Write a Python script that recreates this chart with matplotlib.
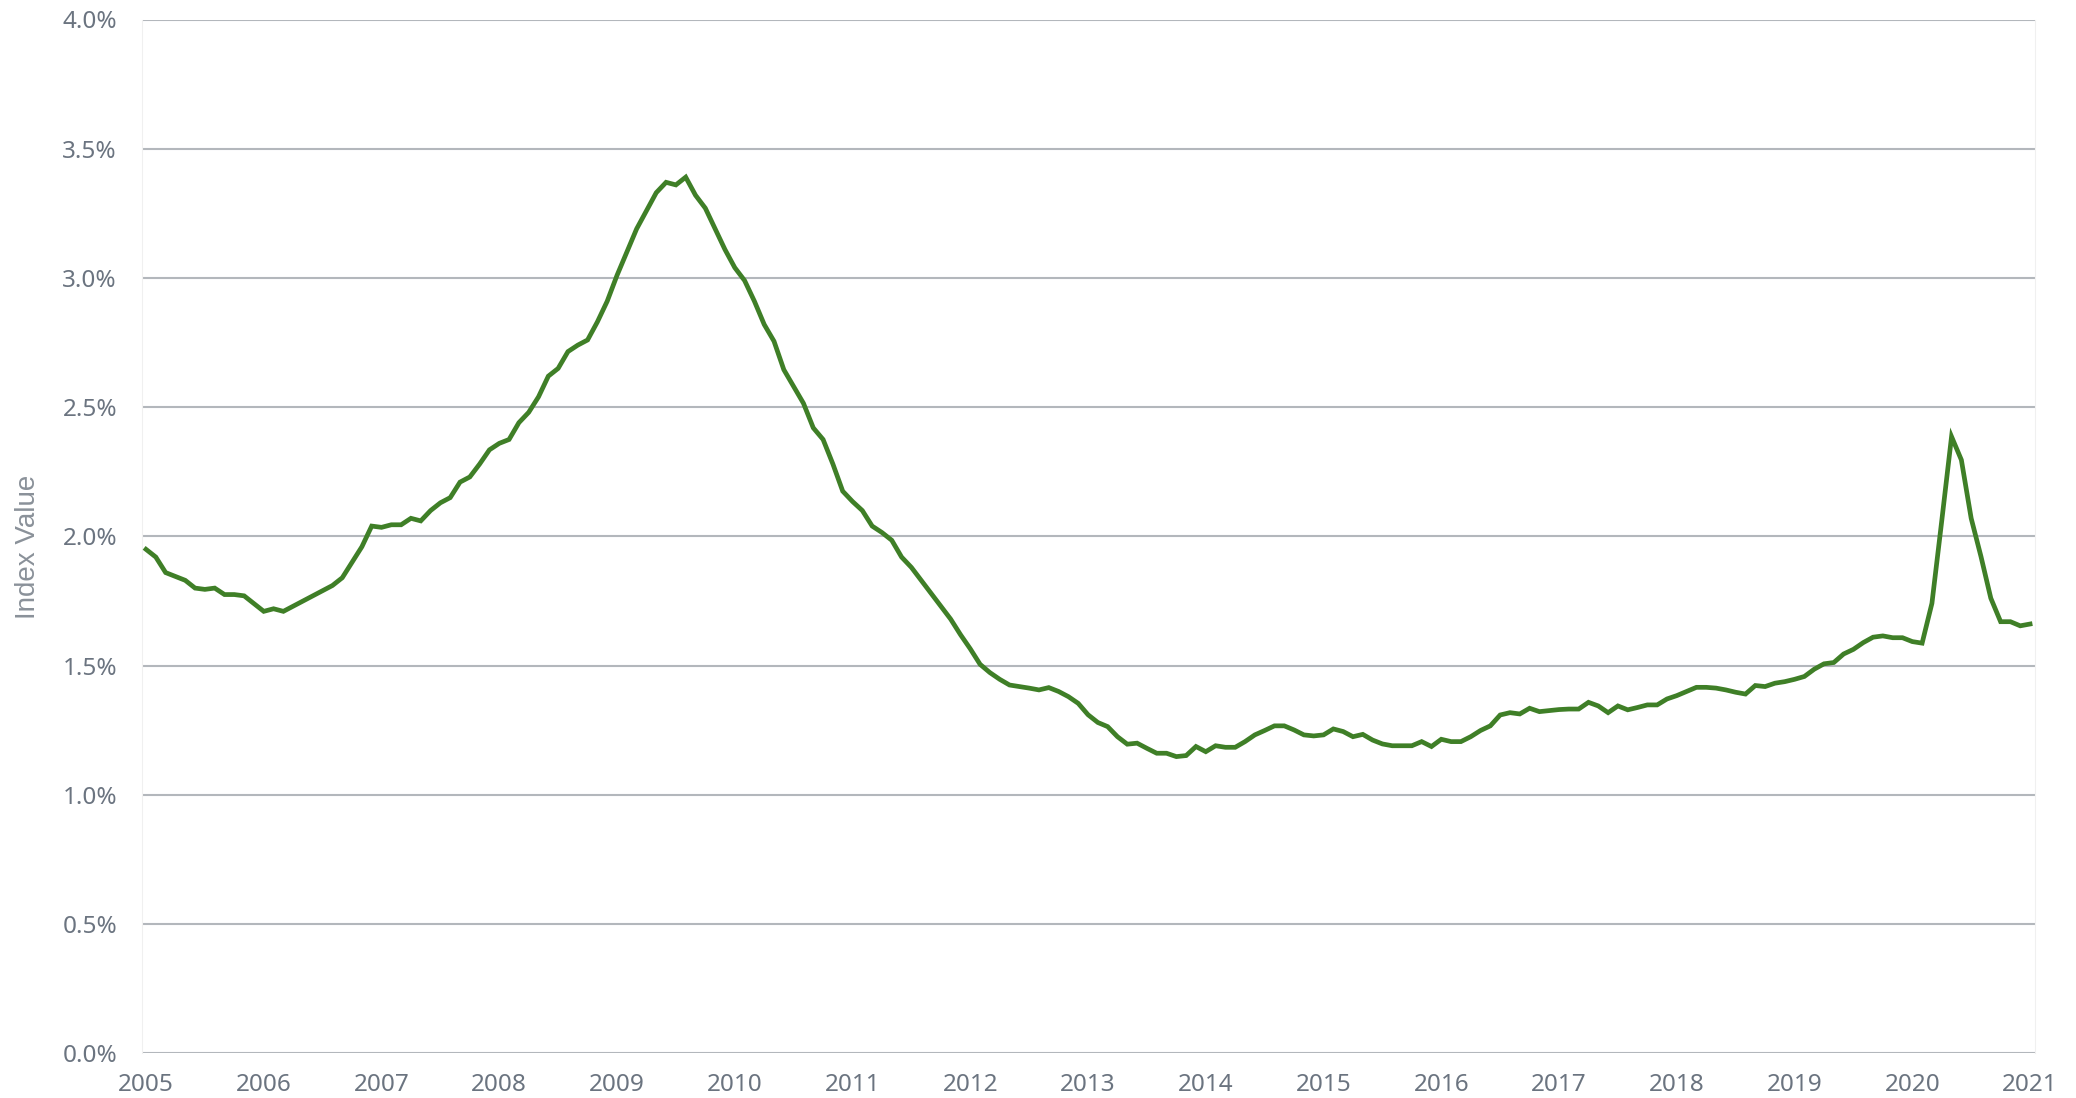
import matplotlib
matplotlib.use("Agg")
import matplotlib.pyplot as plt
from matplotlib.ticker import FuncFormatter
import numpy as np

# Monthly index values (%), Jan 2005 .. Jan 2021
v2005 = [1.95, 1.92, 1.86, 1.845, 1.83, 1.80, 1.795, 1.80, 1.775, 1.775, 1.77, 1.74]
v2006 = [1.71, 1.72, 1.71, 1.73, 1.75, 1.77, 1.79, 1.81, 1.84, 1.90, 1.96, 2.04]
v2007 = [2.035, 2.045, 2.045, 2.07, 2.06, 2.10, 2.13, 2.15, 2.21, 2.23, 2.28, 2.335]
v2008 = [2.36, 2.375, 2.44, 2.48, 2.54, 2.62, 2.65, 2.715, 2.74, 2.76, 2.83, 2.91]
v2009 = [3.01, 3.10, 3.19, 3.26, 3.33, 3.37, 3.36, 3.39, 3.32, 3.27, 3.19, 3.11]
v2010 = [3.04, 2.99, 2.91, 2.82, 2.755, 2.645, 2.58, 2.515, 2.42, 2.375, 2.28, 2.175]
v2011 = [2.135, 2.10, 2.04, 2.015, 1.985, 1.92, 1.88, 1.83, 1.78, 1.73, 1.68, 1.62]
v2012 = [1.565, 1.505, 1.473, 1.447, 1.425, 1.419, 1.413, 1.406, 1.415, 1.40, 1.38, 1.354]
v2013 = [1.31, 1.28, 1.264, 1.225, 1.196, 1.20, 1.18, 1.161, 1.161, 1.148, 1.152, 1.187]
v2014 = [1.167, 1.19, 1.184, 1.184, 1.206, 1.232, 1.249, 1.267, 1.267, 1.251, 1.232, 1.228]
v2015 = [1.232, 1.255, 1.245, 1.225, 1.234, 1.212, 1.197, 1.19, 1.19, 1.19, 1.206, 1.187]
v2016 = [1.215, 1.206, 1.206, 1.225, 1.249, 1.267, 1.309, 1.318, 1.313, 1.335, 1.322, 1.326]
v2017 = [1.33, 1.332, 1.332, 1.358, 1.344, 1.318, 1.344, 1.329, 1.338, 1.348, 1.348, 1.371]
v2018 = [1.384, 1.40, 1.416, 1.416, 1.413, 1.406, 1.397, 1.39, 1.423, 1.419, 1.432, 1.438]
v2019 = [1.447, 1.458, 1.486, 1.507, 1.512, 1.545, 1.563, 1.589, 1.61, 1.615, 1.608, 1.608]
v2020 = [1.593, 1.587, 1.741, 2.06, 2.386, 2.296, 2.07, 1.922, 1.761, 1.67, 1.67, 1.654]
v2021 = [1.661]

values = (v2005 + v2006 + v2007 + v2008 + v2009 + v2010 + v2011 + v2012 +
          v2013 + v2014 + v2015 + v2016 + v2017 + v2018 + v2019 + v2020 + v2021)
months = 2005 + np.arange(len(values)) / 12.0

year_ticks = list(range(2005, 2022))
y_ticks = [0.0, 0.5, 1.0, 1.5, 2.0, 2.5, 3.0, 3.5, 4.0]

fig = plt.figure(figsize=(20.76, 10.98), dpi=100)
ax = fig.add_axes([142 / 2076, (1098 - 1053.3) / 1098, (2035 - 142) / 2076, (1053.3 - 19.5) / 1098])

ax.plot(months, values, color="#3f7f27", lw=3.4, solid_joinstyle="miter", zorder=3)

ax.set_xlim(2004.966, 2021.042)
ax.set_ylim(0, 4)
ax.set_xticks(year_ticks)
ax.set_xticklabels([str(y) for y in year_ticks])
ax.set_yticks(y_ticks)
ax.yaxis.set_major_formatter(FuncFormatter(lambda v, p: f"{v:.1f}%"))

ax.grid(axis="y", color="#b3b7bc", lw=1.5, zorder=1)
ax.grid(axis="x", visible=False)
for s in ["top", "bottom"]:
    ax.spines[s].set_visible(False)
for s in ["left", "right"]:
    ax.spines[s].set_color("#f0f0f0")
    ax.spines[s].set_linewidth(0.8)

ax.tick_params(axis="both", length=0, colors="#6b7480", labelsize=17.5)
ax.tick_params(axis="y", pad=18)
ax.tick_params(axis="x", pad=14)
for lab in ax.get_xticklabels() + ax.get_yticklabels():
    lab.set_fontfamily(["Noto Sans", "DejaVu Sans"])

ax.set_ylabel("Index Value", fontsize=20, color="#8a9199",
              family=["Liberation Sans", "DejaVu Sans"])
ax.yaxis.set_label_coords(-0.0535, 0.49)

fig.savefig("out.png", dpi=100, facecolor="white")
